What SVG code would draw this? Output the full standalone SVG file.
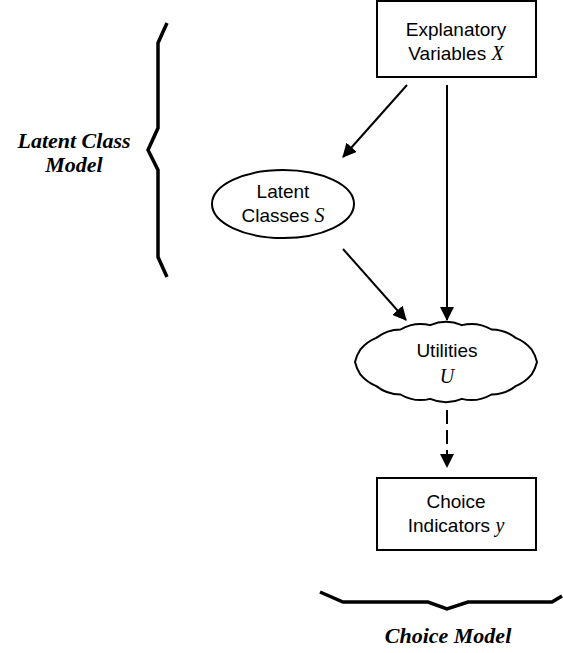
<svg xmlns="http://www.w3.org/2000/svg" width="563" height="653" viewBox="0 0 563 653">
<style>
.box{fill:#fff;stroke:#000;stroke-width:2}
.lbl{font-family:"Liberation Sans",Arial,sans-serif;font-size:19px;fill:#000;text-anchor:middle}
.var{font-family:"Liberation Serif","Times New Roman",serif;font-style:italic;font-size:20px}
.brace{fill:none;stroke:#000;stroke-width:3.5;stroke-linejoin:miter}
.title{font-family:"Liberation Serif","Times New Roman",serif;font-style:italic;font-weight:bold;font-size:22px;fill:#000;text-anchor:middle}
.edge{stroke:#000;stroke-width:2;fill:none}
</style>
<defs>
<marker id="ah" markerUnits="userSpaceOnUse" markerWidth="14" markerHeight="14" refX="13" refY="7" orient="auto">
<path d="M0,0 L14,7 L0,14 Z" fill="#000"/>
</marker>
</defs>
<g id="connectors">
<line class="edge" x1="407" y1="85" x2="343" y2="157" marker-end="url(#ah)"/>
<line class="edge" x1="447" y1="85" x2="447" y2="320" marker-end="url(#ah)"/>
<line class="edge" x1="343" y1="249" x2="406" y2="320" marker-end="url(#ah)"/>
<line class="edge" x1="447" y1="410" x2="447" y2="467" stroke-dasharray="14,6" marker-end="url(#ah)"/>
</g>
<g id="explanatory">
<rect class="box" x="377" y="1" width="159" height="76"/>
<text class="lbl" x="456" y="36">Explanatory</text>
<text class="lbl" x="456" y="60">Variables <tspan class="var">X</tspan></text>
</g>
<g id="latent">
<ellipse class="box" cx="283" cy="204" rx="71" ry="34"/>
<text class="lbl" x="283" y="198">Latent</text>
<text class="lbl" x="283" y="222">Classes  <tspan class="var">S</tspan></text>
</g>
<g id="utilities">
<path class="box" d="M537,362 A40,40 0 0 1 531.5,374.7 A40,40 0 0 1 515.7,386.1 A40,40 0 0 1 491.5,394.5 A40,40 0 0 1 461.8,398.9 A40,40 0 0 1 430.2,398.9 A40,40 0 0 1 400.5,394.5 A40,40 0 0 1 376.3,386.1 A40,40 0 0 1 360.5,374.7 A40,40 0 0 1 355,362 A40,40 0 0 1 360.5,349.3 A40,40 0 0 1 376.3,337.9 A40,40 0 0 1 400.5,329.5 A40,40 0 0 1 430.2,325.1 A40,40 0 0 1 461.8,325.1 A40,40 0 0 1 491.5,329.5 A40,40 0 0 1 515.7,337.9 A40,40 0 0 1 531.5,349.3 A40,40 0 0 1 537,362 Z"/>
<text class="lbl" x="447" y="357">Utilities</text>
<text class="lbl var" x="447" y="383">U</text>
</g>
<g id="choice">
<rect class="box" x="377" y="478" width="159" height="72"/>
<text class="lbl" x="456" y="508">Choice</text>
<text class="lbl" x="456" y="532">Indicators <tspan class="var">y</tspan></text>
</g>
<g id="latent-class-model">
<path class="brace" d="M167,23 L158,43 L158,128 L148,150 L158,170 L158,257 L167,277"/>
<text class="title" x="74" y="148">Latent Class</text>
<text class="title" x="74" y="172">Model</text>
</g>
<g id="choice-model">
<path class="brace" d="M320,592 L343,602 L428,602 L447,609 L468,602 L552,602 L562,596"/>
<text class="title" x="448" y="643">Choice Model</text>
</g>
</svg>
